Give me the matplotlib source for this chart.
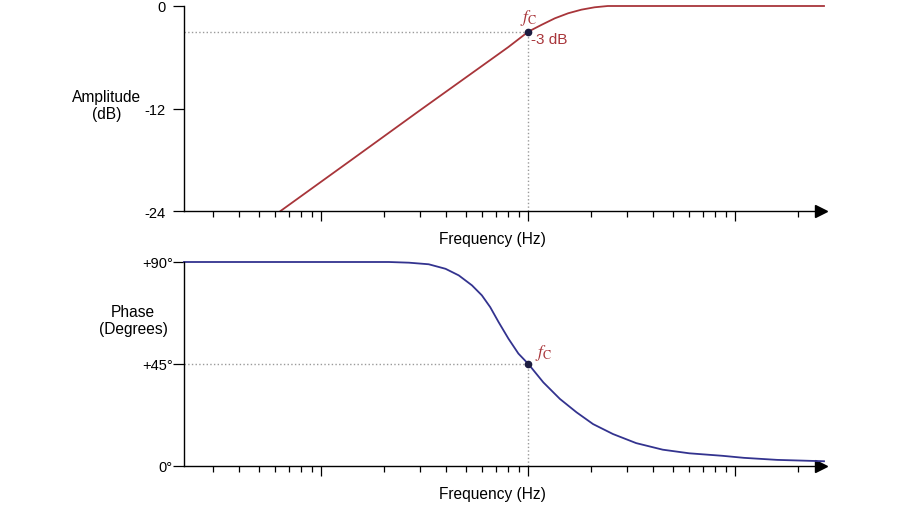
import matplotlib
matplotlib.use("Agg")
import matplotlib.pyplot as plt
import numpy as np

plt.rcParams['font.family'] = ['Liberation Sans', 'DejaVu Sans']
plt.rcParams['font.size'] = 10.5

# values (frequency normalised to fc = 1)
fc = 1.0
amp_freq = [0.0635, 0.1364, 0.296, 0.575, 0.801, 1.0, 1.159, 1.343, 1.557, 1.804,
            2.09, 2.42, 3.03, 26.8]
amp_db = [-24.0, -18.2, -12.3, -7.3, -4.8, -3.0, -2.2, -1.44, -0.85, -0.43,
          -0.15, 0.0, 0.0, 0.0]

ph_freq = [0.0217, 0.190, 0.212, 0.265, 0.330, 0.398, 0.461, 0.534, 0.596, 0.654,
           0.718, 0.801, 0.895, 1.0, 1.181, 1.420, 1.708, 2.053, 2.563, 3.317,
           4.457, 5.99, 8.66, 11.0, 15.9, 26.8]
ph_deg = [90.0, 90.0, 90.0, 89.7, 89.0, 87.0, 84.1, 79.7, 75.3, 70.1,
          63.5, 56.2, 49.6, 45.0, 36.9, 29.6, 23.7, 18.5, 14.1, 10.1,
          7.2, 5.6, 4.5, 3.6, 2.7, 2.1]

amp_ticks = [0, -12, -24]
amp_labels = ['0', '-12', '-24']
ph_ticks = [90, 45, 0]
ph_labels = ['+90°', '+45°', '0°']

red = '#a8353a'
blue = '#33338f'
dotc = '#1c1c40'
grid = '#9a9a9a'

fig = plt.figure(figsize=(9, 5.06), dpi=100)
ax1 = fig.add_axes([184/900, 1-212/506, 640/900, 205/506])
ax2 = fig.add_axes([184/900, 1-467/506, 640/900, 204/506])

for ax, ylab in ((ax1, 240), (ax2, 495)):
    ax.set_xscale('log')
    ax.set_xlim(0.0217, 26.8)
    ax.spines['top'].set_visible(False)
    ax.spines['right'].set_visible(False)
    ax.spines['left'].set_linewidth(1.0)
    ax.spines['bottom'].set_linewidth(1.0)
    ax.tick_params(axis='x', which='major', direction='out', length=7, width=0.9)
    ax.tick_params(axis='x', which='minor', direction='out', length=4.5, width=0.9)
    ax.tick_params(axis='x', which='both', labelbottom=False)
    ax.plot(0.995, 0, '>', color='black', markersize=8, transform=ax.transAxes, clip_on=False)
    fig.text(492/900, 1-ylab/506, 'Frequency (Hz)', ha='center', va='center', fontsize=11.2)

# amplitude
ax1.set_ylim(-24, 0)
ax1.set_yticks(amp_ticks)
ax1.set_yticklabels(amp_labels)
ax1.tick_params(axis='y', direction='out', length=8, width=0.9, pad=5)
ax1.plot(amp_freq, amp_db, color=red, lw=1.3, clip_on=False, solid_joinstyle='round')
ax1.plot([0.0217, fc], [-3, -3], ':', color=grid, lw=1.0)
ax1.plot([fc, fc], [-24, -3], ':', color=grid, lw=1.0)
ax1.plot([fc], [-3], 'o', color=dotc, markersize=4.5, zorder=5)
ax1.text(fc, -1.3, r'$f_\mathrm{C}$', color=red, fontsize=12.5, ha='center', va='center',
         math_fontfamily='stix')
ax1.text(1.03, -3.9, '-3 dB', color=red, fontsize=11, ha='left', va='center')
fig.text(107/900, 1-106/506, 'Amplitude\n(dB)', ha='center', va='center',
         linespacing=1.1, fontsize=11.2)

# phase
ax2.set_ylim(0, 90)
ax2.set_yticks(ph_ticks)
ax2.set_yticklabels(ph_labels)
ax2.tick_params(axis='y', direction='out', length=8, width=0.9, pad=0)
ax2.plot(ph_freq, ph_deg, color=blue, lw=1.3, clip_on=False, solid_joinstyle='round')
ax2.plot([0.0217, fc], [45, 45], ':', color=grid, lw=1.0)
ax2.plot([fc, fc], [0, 45], ':', color=grid, lw=1.0)
ax2.plot([fc], [45], 'o', color=dotc, markersize=4.5, zorder=5)
ax2.text(1.08, 50.5, r'$f_\mathrm{C}$', color=red, fontsize=12.5, ha='left', va='center',
         math_fontfamily='stix')
fig.text(133/900, 1-321/506, 'Phase\n(Degrees)', ha='center', va='center',
         linespacing=1.1, fontsize=11.2)

fig.savefig('out.png', dpi=100)
